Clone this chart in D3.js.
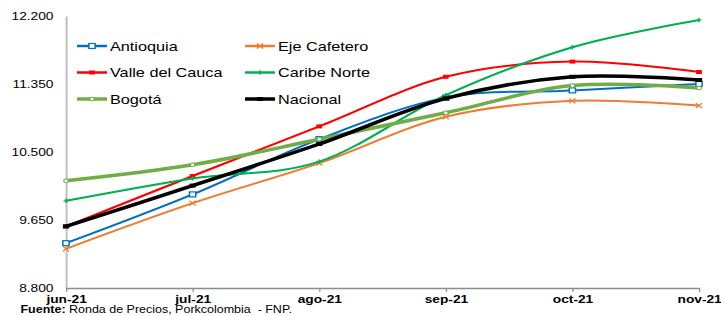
<!DOCTYPE html>
<html>
<head>
<meta charset="utf-8">
<script src="https://cdn.jsdelivr.net/npm/d3@7"></script>
<style>
  html, body { margin: 0; padding: 0; background: #fff; }
  svg { display: block; font-family: "Liberation Sans", Arial, sans-serif; }
</style>
</head>
<body>
<svg id="chart"></svg>
<script>
const months = ["jun-21", "jul-21", "ago-21", "sep-21", "oct-21", "nov-21"];
const yTicks = [8800, 9650, 10500, 11350, 12200];

const antioquia = [9360, 9970, 10660, 11180, 11270, 11350];
const ejeCafetero = [9290, 9860, 10360, 10940, 11140, 11080];
const valle = [9570, 10200, 10820, 11440, 11630, 11500];
const caribe = [9890, 10170, 10380, 11210, 11810, 12150];
const bogota = [10140, 10340, 10660, 10990, 11330, 11300];
const nacional = [9570, 10080, 10600, 11170, 11440, 11400];

const series = [
  {name: "Antioquia", values: antioquia, color: "#0070C0", width: 2, marker: "square"},
  {name: "Eje Cafetero", values: ejeCafetero, color: "#ED7D31", width: 2, marker: "x"},
  {name: "Valle del Cauca", values: valle, color: "#FF0000", width: 2, marker: "fsquare"},
  {name: "Caribe Norte", values: caribe, color: "#00B050", width: 2, marker: "plus"},
  {name: "Bogotá", values: bogota, color: "#70AD47", width: 3.5, marker: "circle"},
  {name: "Nacional", values: nacional, color: "#000000", width: 3.5, marker: "dash"}
];

// the reference is stretched sideways, so draw in a narrower box and stretch it
const W = 721, H = 316, sx = 1.25;
const vw = W / sx;

const svg = d3.select("#chart")
  .attr("width", W)
  .attr("height", H)
  .attr("viewBox", "0 0 " + vw + " " + H)
  .attr("preserveAspectRatio", "none");

const x = d3.scalePoint().domain(months).range([66 / sx, 699 / sx]);
const y = d3.scaleLinear().domain([8800, 12200]).range([288, 16]);

const fmt = d3.formatLocale({decimal: ",", thousands: ".", grouping: [3], currency: ["$", ""]}).format(",");

// y axis
const yAxis = svg.append("g")
  .attr("transform", "translate(" + x(months[0]) + ",0)")
  .call(d3.axisLeft(y).tickValues(yTicks).tickFormat(fmt).tickSize(0).tickPadding(10));
yAxis.select(".domain").attr("stroke", "#c0c0c0").attr("stroke-width", 1.6);
yAxis.selectAll("text").attr("font-size", 11).attr("fill", "#000")
  .attr("font-family", "Liberation Sans, Arial, sans-serif");

// x axis
const xAxis = svg.append("g")
  .attr("transform", "translate(0," + y(8800) + ")")
  .call(d3.axisBottom(x).tickSizeOuter(0).tickSizeInner(4).tickPadding(3));
xAxis.select(".domain").attr("stroke", "#8c8c8c").attr("stroke-width", 1.3);
xAxis.selectAll(".tick line").attr("stroke", "#8c8c8c");
xAxis.selectAll("text").attr("font-size", 11).attr("font-weight", "bold").attr("fill", "#000")
  .attr("font-family", "Liberation Sans, Arial, sans-serif");

const line = d3.line()
  .x((d, i) => x(months[i]))
  .y(d => y(d))
  .curve(d3.curveCatmullRom.alpha(0));

function drawMarker(g, s, cx, cy) {
  if (s.marker === "square") {
    g.append("rect").attr("x", cx - 2.5).attr("y", cy - 2.5).attr("width", 5).attr("height", 5)
      .attr("fill", "#fff").attr("stroke", s.color).attr("stroke-width", 1.2);
  } else if (s.marker === "fsquare") {
    g.append("rect").attr("x", cx - 2.3).attr("y", cy - 2).attr("width", 4.6).attr("height", 4)
      .attr("fill", s.color);
  } else if (s.marker === "x") {
    g.append("path").attr("d", "M" + (cx - 2.5) + "," + (cy - 2.5) + "L" + (cx + 2.5) + "," + (cy + 2.5) +
      "M" + (cx - 2.5) + "," + (cy + 2.5) + "L" + (cx + 2.5) + "," + (cy - 2.5))
      .attr("stroke", s.color).attr("stroke-width", 1.1).attr("fill", "none");
  } else if (s.marker === "plus") {
    g.append("path").attr("d", "M" + (cx - 2) + "," + cy + "L" + (cx + 2) + "," + cy +
      "M" + cx + "," + (cy - 2.2) + "L" + cx + "," + (cy + 2.2))
      .attr("stroke", s.color).attr("stroke-width", 1.2).attr("fill", "none");
  } else if (s.marker === "circle") {
    g.append("circle").attr("cx", cx).attr("cy", cy).attr("r", 1.8)
      .attr("fill", "#fff").attr("stroke", s.color).attr("stroke-width", 0.9);
  } else if (s.marker === "dash") {
    g.append("rect").attr("x", cx - 2.5).attr("y", cy - 2).attr("width", 5).attr("height", 4)
      .attr("fill", s.color);
  }
}

series.forEach(s => {
  const g = svg.append("g");
  g.append("path")
    .datum(s.values)
    .attr("fill", "none")
    .attr("stroke", s.color)
    .attr("stroke-width", s.width)
    .attr("stroke-linejoin", "round")
    .attr("d", line);
  s.values.forEach((v, i) => drawMarker(g, s, x(months[i]), y(v)));
});

// legend
const legendCols = [77 / sx, 245 / sx];
const legendRows = [46, 72.5, 99];
const legendLen = 30 / sx;
series.forEach((s, i) => {
  const lx = legendCols[i % 2], ly = legendRows[Math.floor(i / 2)];
  const g = svg.append("g");
  g.append("line")
    .attr("x1", lx).attr("x2", lx + legendLen)
    .attr("y1", ly).attr("y2", ly)
    .attr("stroke", s.color).attr("stroke-width", s.width === 2 ? 2.5 : 3.5);
  drawMarker(g, s, lx + legendLen / 2, ly);
  g.append("text")
    .attr("x", lx + legendLen + 2.4)
    .attr("y", ly)
    .attr("dy", "0.35em")
    .attr("font-size", 13)
    .attr("fill", "#000")
    .text(s.name);
});

// source note
const note = svg.append("text")
  .attr("x", 20.5 / sx)
  .attr("y", 313.5)
  .attr("font-size", 10)
  .attr("fill", "#000")
  .style("white-space", "pre");
note.append("tspan").attr("font-weight", "bold").text("Fuente:");
note.append("tspan").text(" Ronda de Precios, Porkcolombia  - FNP.");
</script>
</body>
</html>
